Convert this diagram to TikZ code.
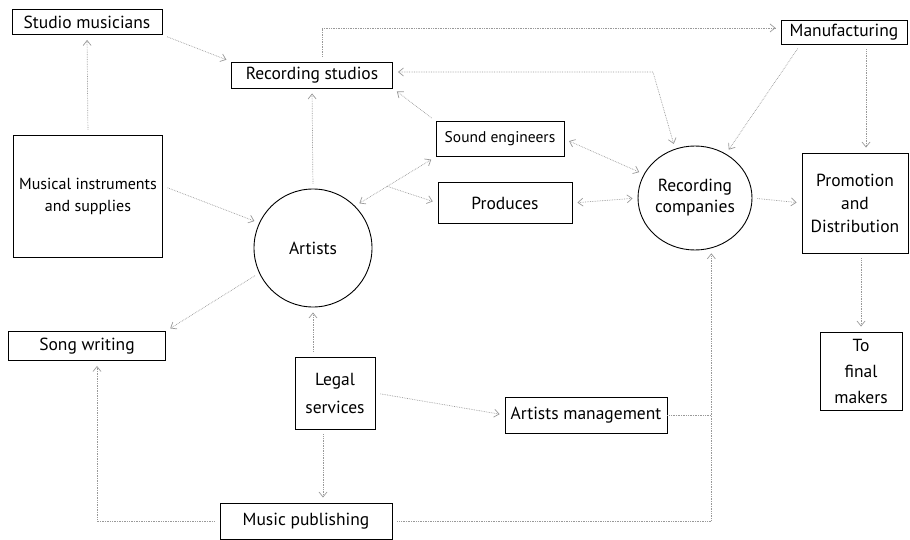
\documentclass[tikz,border=0pt]{standalone}
\usepackage{fontspec}
\setmainfont{PT Sans}
\usetikzlibrary{arrows.meta,shapes.geometric,calc}
\tikzset{
	hop/.style={draw,line width=0.9pt,fill=white,inner sep=2pt,align=center,font=\fontsize{17.5}{23}\selectfont},
	arr/.style={->,draw=gray!80,densely dotted,line width=0.7pt,shorten >=5pt,shorten <=5pt},
	arrd/.style={arr,<->},
	lin/.style={draw=gray!80,densely dotted,line width=0.7pt}
}
\begin{document}
\begin{tikzpicture}[>={Straight Barb[length=5pt,width=8pt]},x=1pt,y=-1pt]
		\useasboundingbox (0,0) rectangle (910,540);
		% Các khối của sơ đồ
		\node[hop,minimum width=150,minimum height=25] (musician) at (87,22) {Studio musicians};
		\node[hop,minimum width=161,minimum height=26] (studio) at (312,75) {Recording studios};
		\node[hop,minimum width=126,minimum height=24] (manufac) at (844,32) {Manufacturing};
		\node[hop,minimum width=149,minimum height=122,font=\fontsize{16}{22}\selectfont] (instrument) at (88,196) {Musical instruments\\and supplies};
		\node[hop,circle,minimum size=118] (artist) at (313,248) {Artists};
		\node[hop,minimum width=128,minimum height=35,font=\fontsize{15.5}{19}\selectfont] (sound) at (500,139) {Sound engineers};
		\node[hop,minimum width=134,minimum height=41] (produce) at (505,203) {Produces};
		\node[hop,ellipse,minimum width=114,minimum height=104,inner sep=0pt,font=\fontsize{17.5}{21}\selectfont] (company) at (695,198) {Recording\\companies};
		\node[hop,minimum width=106,minimum height=100] (promo) at (855,203) {Promotion\\and\\Distribution};
		\node[hop,minimum width=82,minimum height=78,font=\fontsize{17.5}{26}\selectfont] (final) at (861,371) {To\\final\\makers};
		\node[hop,minimum width=157,minimum height=29] (song) at (87,346) {Song writing};
		\node[hop,minimum width=80,minimum height=72,font=\fontsize{17.5}{28}\selectfont] (legal) at (335,393) {Legal\\services};
		\node[hop,minimum width=162,minimum height=36] (manage) at (586,415) {Artists management};
		\node[hop,minimum width=172,minimum height=36] (publish) at (306,521) {Music publishing};
		% Các mũi tên
		\draw[arr] (instrument.north) -- (musician.south);
		\draw[arr] (musician.south east) -- (studio.north west);
		\draw[arr] ([xshift=10pt]studio.north) |- ([yshift=4pt]manufac.west);
		\coordinate (k1) at (653,72); % điểm gấp
		\draw[arrd] (studio.east |- k1) -- (k1) -- (company.112);
		\draw[arr] (sound.north west) -- (studio.south east);
		\draw[arr] (artist.north) -- (studio.south);
		\draw[arrd] (artist.45) -- (sound.south west);
		\coordinate (k2) at ($(artist.45)!0.4!(sound.south west)$);
		\draw[arr,shorten <=0pt] (k2) -- (produce.west);
		\draw[arr] ([yshift=10pt]instrument.east) -- (artist.155);
		\draw[arr] (artist.205) -- (song.north east);
		\draw[arr] (legal.north -| artist.south) -- (artist.south);
		\draw[arr] (legal.east) -- (manage.west);
		\draw[arr] ([xshift=-12pt]legal.south) -- ([xshift=-12pt]legal.south |- publish.north);
		\draw[arr] (publish.west) -| ([xshift=10pt]song.south);
		\draw[arr] (publish.east) -| (company.288);
		\draw[lin] (manage.east) -- (manage.east -| company.288);
		\draw[arrd] (sound.east) -- (company.155);
		\draw[arrd] (produce.east) -- (company.west);
		\draw[arr] ([xshift=20pt]manufac.south west) -- (company.55);
		\draw[arr] ([xshift=22pt]manufac.south) -- ([xshift=22pt]manufac.south |- promo.north);
		\draw[arr] (company.east) -- (promo.west);
		\draw[arr] (promo.south -| final.north) -- (final.north);
\end{tikzpicture}
\end{document}
